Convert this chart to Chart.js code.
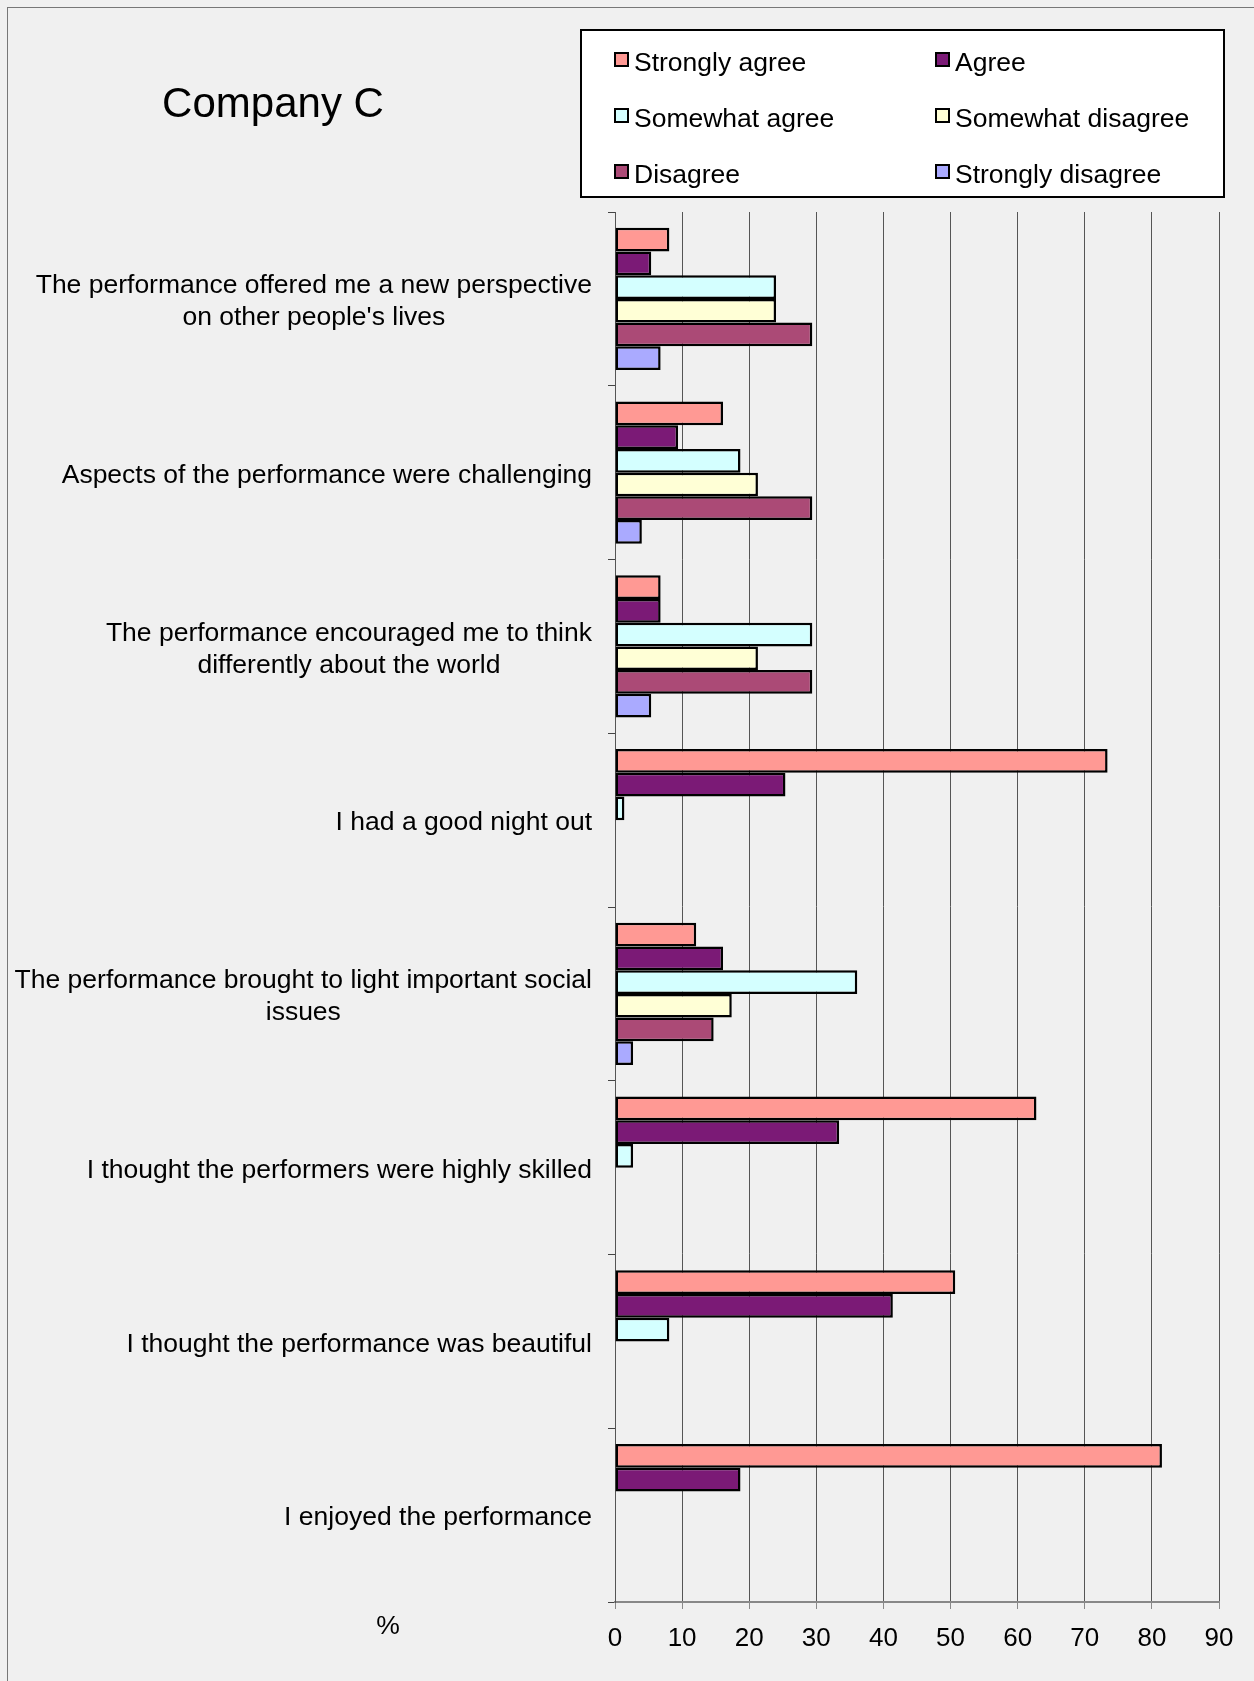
<!DOCTYPE html>
<html>
<head>
<meta charset="utf-8">
<script src="https://cdn.jsdelivr.net/npm/chart.js@4.4.0/dist/chart.umd.min.js"></script>
<style>
  html, body { margin: 0; padding: 0; background: #f0f0f0; }
  #wrap { width: 1254px; height: 1681px; }
</style>
</head>
<body>
<div id="wrap"><canvas id="chart" width="1254" height="1681"></canvas></div>
<script>
// category labels (one array per label, one entry per line)
const categories = [
  ['The performance offered me a new perspective', "on other people's lives"],
  ['Aspects of the performance were challenging'],
  ['The performance encouraged me to think', 'differently about the world'],
  ['I had a good night out'],
  ['The performance brought to light important social', 'issues'],
  ['I thought the performers were highly skilled'],
  ['I thought the performance was beautiful'],
  ['I enjoyed the performance']
];

const seriesNames = ['Strongly agree', 'Agree', 'Somewhat agree', 'Somewhat disagree', 'Disagree', 'Strongly disagree'];
const seriesColors = ['#ff9994', '#7b1a76', '#d4ffff', '#ffffd6', '#ab4a76', '#aaaaff'];

// values in %
const stronglyAgree    = [8.1, 16.1, 6.8, 73.4, 12.1, 62.8, 50.7, 81.5];
const agree            = [5.4, 9.4, 6.8, 25.4, 16.1, 33.4, 41.4, 18.7];
const somewhatAgree    = [24.0, 18.7, 29.4, 1.4, 36.1, 2.7, 8.1, 0];
const somewhatDisagree = [24.0, 21.3, 21.3, 0, 17.4, 0, 0, 0];
const disagree         = [29.4, 29.4, 29.4, 0, 14.7, 0, 0, 0];
const stronglyDisagree = [6.8, 4.0, 5.4, 0, 2.7, 0, 0, 0];

const xTicks = [0, 10, 20, 30, 40, 50, 60, 70, 80, 90];

const chartTitle = 'Company C';
const unitLabel = '%';

const allSeries = [stronglyAgree, agree, somewhatAgree, somewhatDisagree, disagree, stronglyDisagree];

const FONT = '"Liberation Sans", Arial, sans-serif';

// title, legend box, category labels, % label
const decorations = {
  id: 'decorations',
  beforeDraw(chart) {
    const ctx = chart.ctx;
    ctx.save();
    ctx.fillStyle = '#f0f0f0';
    ctx.fillRect(0, 0, chart.width, chart.height);
    ctx.strokeStyle = '#777';
    ctx.lineWidth = 1;
    ctx.strokeRect(7.5, 7.5, chart.width + 20, chart.height + 20);
    ctx.restore();
  },
  afterDraw(chart) {
    const ctx = chart.ctx;
    const yScale = chart.scales.y;
    ctx.save();

    // title
    ctx.fillStyle = '#000';
    ctx.font = '42px ' + FONT;
    ctx.textAlign = 'center';
    ctx.textBaseline = 'middle';
    ctx.fillText(chartTitle, 273, 105);

    // legend
    ctx.fillStyle = '#fff';
    ctx.fillRect(581, 30, 643, 167);
    ctx.strokeStyle = '#000';
    ctx.lineWidth = 2;
    ctx.strokeRect(581, 30, 643, 167);
    const colX = [615, 936];
    const rowY = [61, 117, 173];
    ctx.font = '26.5px ' + FONT;
    ctx.textAlign = 'left';
    chart.data.datasets.forEach((ds, i) => {
      const x = colX[i % 2];
      const y = rowY[Math.floor(i / 2)];
      ctx.fillStyle = ds.backgroundColor;
      ctx.fillRect(x, y - 8, 13, 13);
      ctx.lineWidth = 2;
      ctx.strokeStyle = '#000';
      ctx.strokeRect(x, y - 8, 13, 13);
      ctx.fillStyle = '#000';
      ctx.fillText(ds.label, x + 19, y + 3);
    });

    // category labels: block right-aligned, lines centred in block
    ctx.font = '26.5px ' + FONT;
    ctx.textAlign = 'center';
    const right = 592;
    const lineH = 32;
    categories.forEach((lines, i) => {
      const cy = yScale.getPixelForTick(i) + 3;
      const widest = Math.max(...lines.map(l => ctx.measureText(l).width));
      const cx = right - widest / 2;
      lines.forEach((l, j) => {
        ctx.fillText(l, cx, cy + (j - (lines.length - 1) / 2) * lineH);
      });
    });

    // unit label
    ctx.textAlign = 'center';
    ctx.fillText(unitLabel, 388, 1627);
    ctx.restore();
  }
};

new Chart(document.getElementById('chart'), {
  type: 'bar',
  data: {
    labels: categories,
    datasets: allSeries.map((vals, i) => ({
      label: seriesNames[i],
      data: vals,
      backgroundColor: seriesColors[i],
      borderColor: '#000',
      borderWidth: 2.5,
      borderSkipped: false,
      categoryPercentage: 0.82,
      barPercentage: 1.0
    }))
  },
  options: {
    indexAxis: 'y',
    responsive: false,
    animation: false,
    layout: { padding: { top: 212, left: 0, right: 35, bottom: 0 } },
    plugins: {
      legend: { display: false },
      title: { display: false },
      tooltip: { enabled: false }
    },
    scales: {
      x: {
        min: 0,
        max: 90,
        afterBuildTicks: s => { s.ticks = xTicks.map(v => ({ value: v })); },
        afterFit: s => { s.height = 79; },
        grid: { color: '#555', lineWidth: 1, tickLength: 7, tickColor: '#888' },
        border: { color: '#888', width: 2 },
        ticks: { color: '#000', font: { size: 26, family: FONT }, padding: 14 }
      },
      y: {
        afterFit: s => { s.width = 615; },
        grid: { drawOnChartArea: false, tickLength: 7, tickColor: '#444', offset: true },
        border: { color: '#555', width: 1 },
        ticks: { display: false }
      }
    }
  },
  plugins: [decorations]
});
</script>
</body>
</html>
